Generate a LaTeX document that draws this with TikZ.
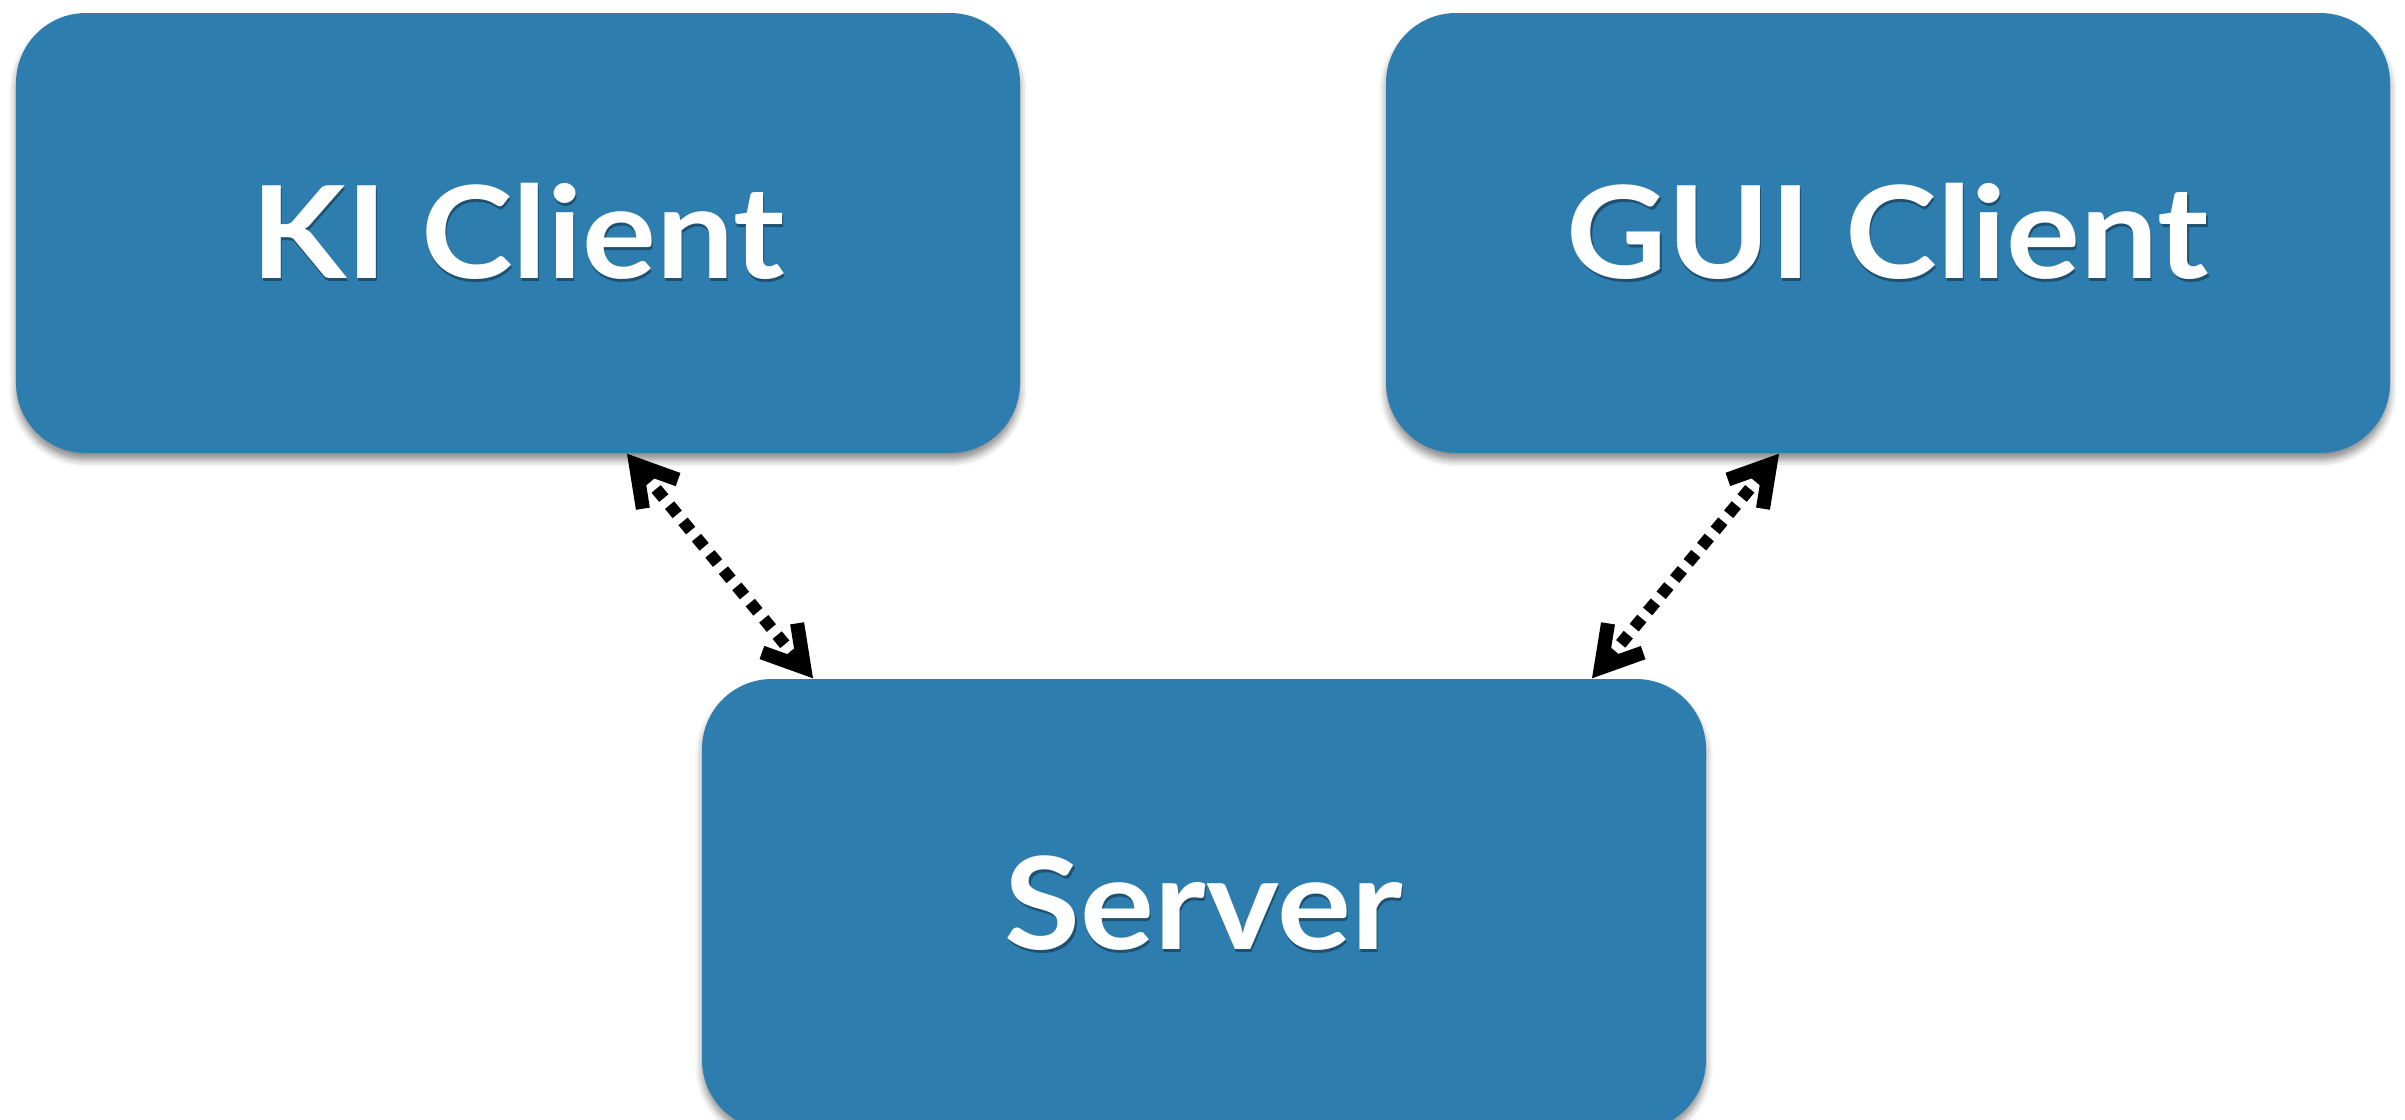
\documentclass[tikz,border=0pt]{standalone}
\usepackage{fontspec}
\setmainfont{Lato}
\usetikzlibrary{arrows.meta,shadows.blur,calc}

\definecolor{boxblue}{RGB}{45,125,175}
\colorlet{textshade}{boxblue!65!black}

% white label, slightly widened, with a small dark shade underneath
\newcommand\shadedlabel[1]{\scalebox{1.08}[1]{\leavevmode\rlap{\raisebox{-0.025cm}{\hspace{0.01cm}\color{textshade}#1}}#1}}

\tikzset{
  panel/.style={
    rectangle, rounded corners=0.7cm, fill=boxblue, draw=none,
    minimum width=10.04cm, inner sep=0pt, text=white,
    font=\fontsize{36.5pt}{40pt}\selectfont\bfseries,
    blur shadow={shadow xshift=0pt, shadow yshift=-0.07cm,
                 shadow blur radius=0.07cm, shadow opacity=45}
  },
  dotline/.style={line width=3.4pt, dash pattern=on 3.4pt off 2.6pt},
  headline/.style={line width=4pt, solid,
    -{Straight Barb[length=11pt,width=13pt,line width=4pt]}}
}

\begin{document}
\begin{tikzpicture}
  \useasboundingbox (0,0) rectangle (24.05,-11.19);

  \node[panel, minimum height=4.40cm] (ki)  at (5.18,-2.33)  {\shadedlabel{KI Client}};
  \node[panel, minimum height=4.40cm] (gui) at (18.88,-2.33) {\shadedlabel{GUI Client}};
  \node[panel, minimum height=4.51cm] (srv) at (12.04,-9.045) {\shadedlabel{Server}};

  % connector end points on the box edges
  \coordinate (kiEnd)   at ([xshift=1.09cm]ki.south);
  \coordinate (srvLeft) at ([xshift=-3.91cm]srv.north);
  \coordinate (guiEnd)  at ([xshift=-1.09cm]gui.south);
  \coordinate (srvRight) at ([xshift=3.88cm]srv.north);

  % dotted shafts
  \draw[dotline] ($(kiEnd)!7pt!(srvLeft)$) -- ($(srvLeft)!7pt!(kiEnd)$);
  \draw[dotline] ($(guiEnd)!7pt!(srvRight)$) -- ($(srvRight)!7pt!(guiEnd)$);

  % solid arrow heads at both ends
  \draw[headline] ($(kiEnd)!9pt!(srvLeft)$) -- (kiEnd);
  \draw[headline] ($(srvLeft)!9pt!(kiEnd)$) -- (srvLeft);
  \draw[headline] ($(guiEnd)!9pt!(srvRight)$) -- (guiEnd);
  \draw[headline] ($(srvRight)!9pt!(guiEnd)$) -- (srvRight);
\end{tikzpicture}
\end{document}
